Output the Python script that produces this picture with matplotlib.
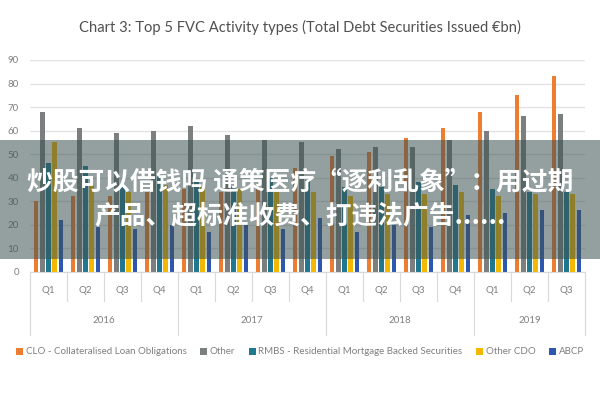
import numpy as np
import matplotlib
matplotlib.use('Agg')
import matplotlib.pyplot as plt
from matplotlib.patches import Rectangle
from matplotlib.transforms import blended_transform_factory

plt.rcParams['font.family'] = ['Lato', 'DejaVu Sans']

quarters = ['Q1', 'Q2', 'Q3', 'Q4'] * 3 + ['Q1', 'Q2', 'Q3']
years = ['2016', '2017', '2018', '2019']
quarters_per_year = [4, 4, 4, 3]

series_names = ['CLO - Collateralised Loan Obligations', 'Other',
                'RMBS - Residential Mortgage Backed Securities', 'Other CDO', 'ABCP']
series_colors = ['#ED7D31', '#7B7F80', '#1F7890', '#F5B800', '#2E58B0']

clo = [30, 32, 32, 34, 35, 34, 36, 44, 49, 51, 57, 61, 68, 75, 83]
other = [68, 61, 59, 60, 62, 58, 56, 55, 52, 53, 53, 56, 60, 66, 67]
rmbs = [46, 45, 36, 41, 39, 36, 40, 39, 36, 36, 38, 37, 35, 34, 34]
other_cdo = [55, 37, 34, 37, 36, 35, 34, 34, 32, 33, 33, 34, 32, 33, 33]
abcp = [22, 19, 18, 20, 17, 20, 18, 23, 17, 20, 19, 24, 25, 26, 26]
values = [clo, other, rmbs, other_cdo, abcp]

overlay_lines = ['炒股可以借钱吗 通策医疗“逐利乱象”：用过期',
                 '产品、超标准收费、打违法广告......']

fig = plt.figure(figsize=(6, 4), dpi=100)
ax = fig.add_axes([0.05, 0.321, 0.925, 0.529])

x = np.arange(len(quarters))
width = 0.115
pitch = 0.165
for i, (vals, name, col) in enumerate(zip(values, series_names, series_colors)):
    ax.bar(x + (i - 2) * pitch, vals, width=width, color=col, label=name, zorder=2)

ax.set_xlim(-0.5, len(quarters) - 0.5)
ax.set_ylim(0, 90)
ax.set_yticks(range(0, 100, 10))
ax.tick_params(axis='y', length=0, labelsize=7, labelcolor='#7f7f7f', pad=8)
ax.grid(axis='y', color='#e3e3e3', linewidth=1, zorder=0)
ax.set_xticks([])
for side in ['top', 'right', 'left']:
    ax.spines[side].set_visible(False)
ax.spines['bottom'].set_color('#d9d9d9')

# multi-level category axis
trans = blended_transform_factory(ax.transData, ax.transAxes)
for i, q in enumerate(quarters):
    ax.text(i, -0.09, q, transform=trans, ha='center', va='center',
            fontsize=7, color='#7f7f7f')
bounds = np.cumsum([0] + quarters_per_year)
for b in range(len(quarters) + 1):
    y_end = -0.30 if b in bounds else -0.14
    ax.plot([b - 0.5, b - 0.5], [0, y_end], transform=trans, color='#d9d9d9',
            linewidth=0.8, clip_on=False)
for yr, start, n in zip(years, bounds[:-1], quarters_per_year):
    ax.text(start + (n - 1) / 2, -0.23, yr, transform=trans, ha='center',
            va='center', fontsize=7, color='#7f7f7f')

fig.text(0.5, 0.932, 'Chart 3: Top 5 FVC Activity types (Total Debt Securities Issued €bn)',
         ha='center', va='center', fontsize=10.6, color='#505050')

fig.legend(loc='center', bbox_to_anchor=(0.5, 0.12), ncol=5, frameon=False,
           fontsize=7, handlelength=0.7, handleheight=0.7, handletextpad=0.3,
           columnspacing=1.4, labelcolor='#7f7f7f')

# grey banner with overlaid text
fig.patches.append(Rectangle((0, 0.3525), 1, 0.2975, transform=fig.transFigure,
                             facecolor='#3c5050', alpha=0.55, zorder=5))
fig.text(0.5, 0.545, overlay_lines[0], ha='center', va='center', fontsize=18.5,
         color='white', fontweight='bold', zorder=6,
         family=['Noto Sans CJK SC', 'DejaVu Sans'])
fig.text(0.5, 0.458, overlay_lines[1], ha='center', va='center', fontsize=18.5,
         color='white', fontweight='bold', zorder=6,
         family=['Noto Sans CJK SC', 'DejaVu Sans'])

fig.savefig('out.png', dpi=100)
